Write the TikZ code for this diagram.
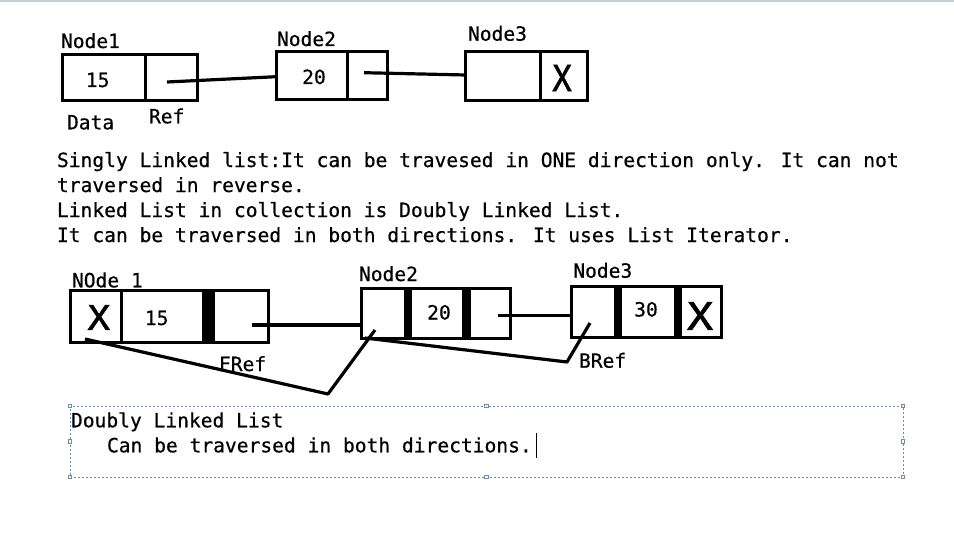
\documentclass[tikz,border=0pt]{standalone}
\usepackage{fontspec}
\setmainfont{DejaVu Sans Mono}[FakeBold=0.6]
\newfontfamily\xfont{DejaVu Sans Mono}[FakeBold=1.5]
\definecolor{topbar}{RGB}{198,206,216}
\definecolor{noteblue}{RGB}{110,140,175}
\tikzset{
  box/.style={draw, line width=3pt, rectangle, inner sep=0pt, outer sep=0pt},
  divider/.style={line width=3pt},
  link/.style={line width=3.2pt, line join=round},
  txt/.style={inner sep=0pt, outer sep=0pt, anchor=base west, font=\fontsize{19.6}{25}\selectfont},
  val/.style={inner sep=0pt, outer sep=0pt, anchor=base, font=\fontsize{19.6}{25}\selectfont},
  bigx/.style={inner sep=0pt, outer sep=0pt, anchor=center, font=\xfont\fontsize{36}{36}\selectfont},
  notebox/.style={draw=noteblue, dash pattern=on 2pt off 2pt, line width=0.8pt, rectangle, inner sep=0pt, outer sep=0pt},
  handle/.style={draw=noteblue, fill=white, line width=0.6pt, rectangle, minimum size=3.5pt, inner sep=0pt}
}
\begin{document}
\begin{tikzpicture}[x=1pt, y=-1pt]
\useasboundingbox (0,0) rectangle (954,551);
\fill[topbar] (0,0) rectangle (954,2.5);

% ---------- singly linked list ----------
\node[box, minimum width=135pt, minimum height=46.7pt] (n1) at (130.2,77.65) {};
\node[box, minimum width=111.7pt, minimum height=48.3pt] (n2) at (331.85,75.85) {};
\node[box, minimum width=122pt, minimum height=49.3pt] (n3) at (526.7,76.35) {};
\draw[divider] (145.7,54.3) -- (145.7,101);
\draw[divider] (347.3,51.7) -- (347.3,100);
\draw[divider] (540,51.7) -- (540,101);

\node[txt] (n1lbl) at (61,48) {Node1};
\node[txt] (n2lbl) at (277,46) {Node2};
\node[txt] (n3lbl) at (468,40.7) {Node3};
\node[val] (n1val) at (97.7,87) {15};
\node[val] (n2val) at (314,84) {20};
\node[bigx] (n3x) at (562,78) {\scalebox{0.9}[1]{X}};
\node[txt] (datalbl) at (67,129.3) {Data};
\node[txt] (reflbl) at (149,123.3) {Ref};

\coordinate (r1) at (167,82);
\coordinate (r2) at (364,72.7);
\draw[link] (r1) -- (n2.west |- 0,76.7);
\draw[link] (r2) -- (n3.west |- 0,75);

% ---------- text ----------
\node[txt] (t1) at (57,167) {Singly Linked list:It can be travesed in ONE direction only. It can not};
\node[txt] (t2) at (57,192) {traversed in reverse.};
\node[txt] (t3) at (57,217) {Linked List in collection is Doubly Linked List.};
\node[txt] (t4) at (57,242) {It can be traversed in both directions. It uses List Iterator.};

% ---------- doubly linked list ----------
\node[box, minimum width=198.3pt, minimum height=51.6pt] (m1) at (169.15,316.5) {};
\node[box, minimum width=148.3pt, minimum height=50pt] (m2) at (435.85,313.3) {};
\node[box, minimum width=149.3pt, minimum height=51.7pt] (m3) at (646.35,311.85) {};
\draw[divider] (121.7,290.7) -- (121.7,342.3);
\fill (202,290.7) rectangle (215,342.3);
\fill (404.3,288.3) rectangle (411.7,338.3);
\fill (462.3,288.3) rectangle (471,338.3);
\fill (614,286) rectangle (621.7,337.7);
\fill (674.3,286) rectangle (682.3,337.7);

\node[txt] (m1lbl) at (72,287.3) {NOde 1};
\node[txt] (m2lbl) at (359,281) {Node2};
\node[txt] (m3lbl) at (573.3,277.7) {Node3};
\node[bigx] (m1x) at (98.8,317.5) {\scalebox{1.05}[0.95]{X}};
\node[val] (m1val) at (156.7,325) {15};
\node[val] (m2val) at (439,319.5) {20};
\node[val] (m3val) at (646,316.5) {30};
\node[bigx, font=\xfont\fontsize{38}{38}\selectfont] (m3x) at (700,316) {\scalebox{1.15}[1]{X}};
\node[txt] (freflbl) at (219,371) {FRef};
\node[txt] (breflbl) at (579,367.7) {BRef};

\coordinate (f1) at (252,325);
\coordinate (f2) at (498.3,315.7);
\draw[link] (f1) -- (f1 -| m2.west);
\draw[link] (f2) -- (f2 -| m3.west);

\coordinate (fa) at (85,339);
\coordinate (fb) at (328,394);
\coordinate (fc) at (375,330);
\draw[link] (fa) -- (fb) -- (fc);
\coordinate (ba) at (365,338);
\coordinate (bb) at (567,362);
\coordinate (bc) at (590,323);
\draw[link] (ba) -- (bb) -- (bc);

% ---------- note box ----------
\node[notebox, minimum width=833pt, minimum height=71pt] (note) at (486.5,441.5) {};
\foreach \p in {north west, north, north east, west, east, south west, south, south east}
  \node[handle] at (note.\p) {};
\node[txt] (nt1) at (71,427.3) {Doubly Linked List};
\node[txt] (nt2) at (107,452.3) {Can be traversed in both directions.};
\draw[line width=1pt] (536,433) -- (536,458);
\end{tikzpicture}
\end{document}
